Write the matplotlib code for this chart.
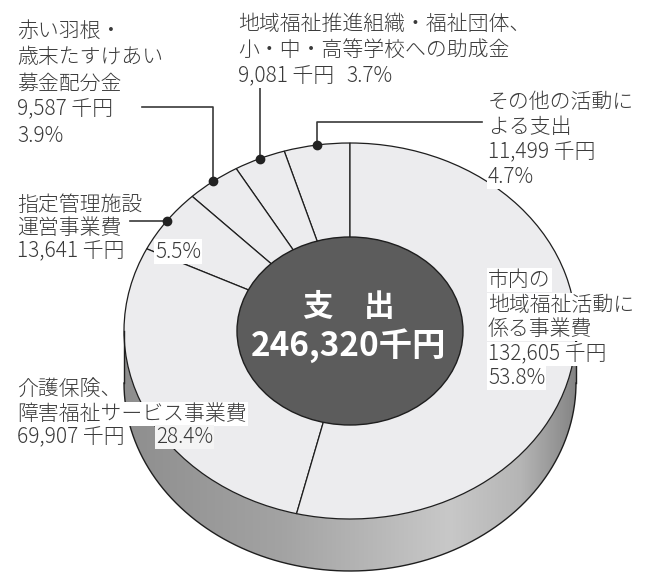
import numpy as np
import matplotlib.pyplot as plt
from matplotlib.patches import Ellipse, Polygon
from matplotlib.colors import LinearSegmentedColormap

plt.rcParams['font.family'] = ['Noto Sans CJK JP', 'DejaVu Sans']

# 支出の内訳（上から反時計回り）
names = ["その他の活動による支出",
         "地域福祉推進組織・福祉団体、小・中・高等学校への助成金",
         "赤い羽根・歳末たすけあい募金配分金",
         "指定管理施設運営事業費",
         "介護保険、障害福祉サービス事業費",
         "市内の地域福祉活動に係る事業費"]
amounts = [11499, 9081, 9587, 13641, 69907, 132605]   # 千円
shares = [4.7, 3.7, 3.9, 5.5, 28.4, 53.8]            # %
total = 246320

face = '#ececee'
ink = '#3a3a3a'

# pixel -> data (pie radius 1 maps to 226 x 188 px)
CX, CY, RX, RY = 350, 331, 226, 188


def P(x, y):
    return (x - CX) / RX, (CY - y) / RY


fig = plt.figure(figsize=(6.48, 5.73), dpi=100)
ax = fig.add_axes([0, 0, 1, 1])

wedges, _ = ax.pie(shares, startangle=90, counterclock=True, colors=[face] * len(shares),
                   wedgeprops=dict(edgecolor='#1e1e1e', linewidth=0.9, zorder=2))

# side of the disc (lower half), with a grey gradient
depth = 52 / RY
t = np.linspace(np.pi, 2 * np.pi, 300)
pts = np.vstack([np.column_stack([np.cos(t), np.sin(t)]),
                 np.column_stack([np.cos(t[::-1]), np.sin(t[::-1]) - depth])])
side = Polygon(pts, closed=True, facecolor='none', edgecolor='none')
ax.add_patch(side)
cmap = LinearSegmentedColormap.from_list(
    'side', [(0, '#8e8e8e'), (0.35, '#a3a3a3'), (0.72, '#c8c8c8'), (0.88, '#b5b5b5'), (1, '#858585')])
img = ax.imshow(np.linspace(0, 1, 256)[None, :], cmap=cmap, extent=(-1, 1, -1 - depth, 0),
                aspect='auto', zorder=1)
img.set_clip_path(side)
ax.plot(np.cos(t), np.sin(t) - depth, color='#1e1e1e', lw=1, zorder=2)
ax.plot([-1, -1], [0, -depth], color='#1e1e1e', lw=1, zorder=2)
ax.plot([1, 1], [0, -depth], color='#1e1e1e', lw=1, zorder=2)

# dark centre
ax.add_patch(Ellipse((0, 0), 1.0, 1.0, facecolor='#5c5c5c', edgecolor='#1e1e1e', lw=1, zorder=3))
ax.text(*P(349, 307), "支　出", color='white', fontsize=22, fontweight='bold',
        ha='center', va='center', zorder=4)
ax.text(*P(349, 346), f"{total:,}千円", color='white', fontsize=24, fontweight='bold',
        ha='center', va='center', zorder=4)

# dots at the middle of the small slices
mids = []
for w in wedges[:4]:
    a = np.deg2rad((w.theta1 + w.theta2) / 2)
    mids.append((np.cos(a), np.sin(a)))
for mx, my in mids:
    ax.plot(mx, my, 'o', color='#222222', ms=6, zorder=5)

lk = dict(color=ink, lw=1.2, zorder=4)
# その他
mx, my = mids[0]
ax.plot([mx, mx, P(482, 0)[0]], [my, P(0, 122)[1], P(0, 122)[1]], **lk)
# 地域福祉
mx, my = mids[1]
ax.plot([mx, mx], [my, P(0, 87)[1]], **lk)
# 赤い羽根
mx, my = mids[2]
ax.plot([mx, mx, P(142, 0)[0]], [my, P(0, 107)[1], P(0, 107)[1]], **lk)
# 指定管理
mx, my = mids[3]
ax.plot([mx, P(130, 0)[0]], [my, my], **lk)


def line(x, y, s, bg='white'):
    ax.text(*P(x, y), s, ha='left', va='center', fontsize=15, color=ink, fontweight='light',
            zorder=6, bbox=dict(facecolor=bg, edgecolor='none', pad=0.8))


def amt(i):
    return f"{amounts[i]:,} 千円"


def pct(i):
    return f"{shares[i]}%"


# 赤い羽根
for k, s in enumerate(["赤い羽根・", "歳末たすけあい", "募金配分金", amt(2), pct(2)]):
    line(17, 31 + k * 26.2, s)
# 地域福祉
for k, s in enumerate(["地域福祉推進組織・福祉団体、", "小・中・高等学校への助成金", amt(1)]):
    line(238, 23.5 + k * 26.3, s)
line(346, 23.5 + 2 * 26.3, pct(1))
# その他
for k, s in enumerate(["その他の活動に", "よる支出", amt(0), pct(0)]):
    line(488, 101.5 + k * 25.3, s)
# 指定管理
for k, s in enumerate(["指定管理施設", "運営事業費", amt(3)]):
    line(17, 205 + k * 23.3, s)
line(155, 251.5, pct(3))
# 市内
for k, s in enumerate(["市内の", "地域福祉活動に", "係る事業費", amt(5), pct(5)]):
    line(488, 280 + k * 24.6, s)
# 介護
line(17, 389, "介護保険、")
line(17, 414, "障害福祉サービス事業費")
line(17, 437, amt(4))
line(156, 437, pct(4), bg='#f4f4f4')

x0, y0 = P(0, 573)
x1, y1 = P(648, 0)
ax.set_xlim(x0, x1)
ax.set_ylim(y0, y1)
ax.set_aspect('auto')
ax.axis('off')

fig.savefig('out.png', dpi=100)
